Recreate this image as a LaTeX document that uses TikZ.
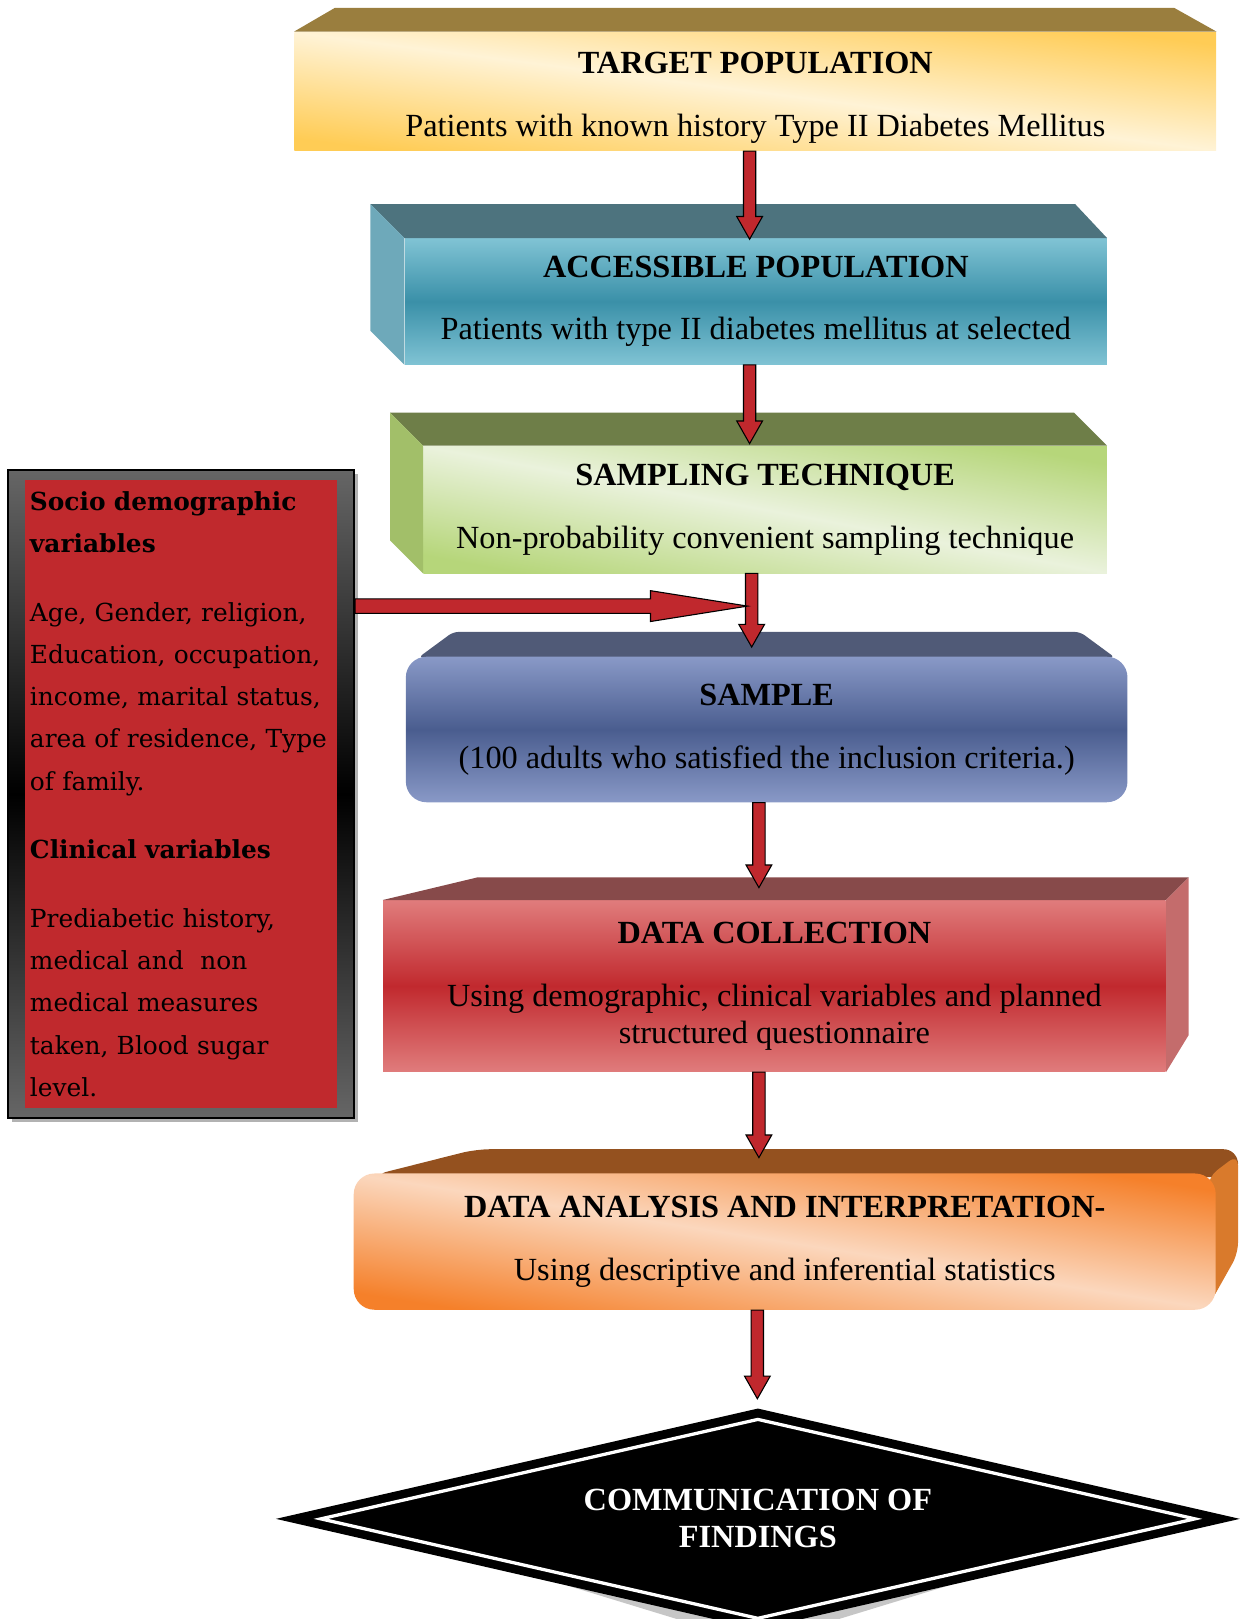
\documentclass[tikz,border=0pt]{standalone}
\usepackage{fontspec}
\setmainfont{Liberation Serif}
\newfontfamily\sidefont{DejaVu Serif}
\usetikzlibrary{calc,shapes.geometric}

\definecolor{arrred}{HTML}{C0282D}
\definecolor{tpTop}{HTML}{9A7E3E}
\definecolor{tpPale}{HTML}{FFF3D6}
\definecolor{tpGold}{HTML}{FFCC55}
\definecolor{apTop}{HTML}{4D737E}
\definecolor{apSide}{HTML}{6EA9BA}
\definecolor{apLight}{HTML}{80C3D4}
\definecolor{apDark}{HTML}{3A90A8}
\definecolor{stTop}{HTML}{6E7E48}
\definecolor{stSide}{HTML}{A2BF69}
\definecolor{stPale}{HTML}{EAF2DC}
\definecolor{stGreen}{HTML}{B6D67A}
\definecolor{saTop}{HTML}{505A77}
\definecolor{saLight}{HTML}{8999C7}
\definecolor{saDark}{HTML}{4A5D8F}
\definecolor{dcTop}{HTML}{874A4A}
\definecolor{dcSide}{HTML}{C46C6C}
\definecolor{dcLight}{HTML}{E07C7C}
\definecolor{dcDark}{HTML}{C1292E}
\definecolor{daTop}{HTML}{94511F}
\definecolor{daSide}{HTML}{D97A2C}
\definecolor{daPale}{HTML}{FBD7BD}
\definecolor{daOrange}{HTML}{F5802A}
\definecolor{lbRed}{HTML}{C0292D}
\definecolor{lbGray}{HTML}{666666}

\newcommand\vfat[2]{%
  \draw[fatarrow] let \p1=(#1), \p2=(#2) in
    (\x1-3.4pt,\y1) -- (\x1+3.4pt,\y1) -- (\x1+3.4pt,\y2+12.5pt) -- (\x1+7.1pt,\y2+12.5pt)
    -- (\x1,\y2) -- (\x1-7.1pt,\y2+12.5pt) -- (\x1-3.4pt,\y2+12.5pt) -- cycle;}
\newcommand\hfat[2]{%
  \draw[fatarrow] let \p1=(#1), \p2=(#2) in
    (\x1,\y1+4pt) -- (\x2-53.5pt,\y1+4pt) -- (\x2-53.5pt,\y1+8.5pt) -- (\x2,\y1)
    -- (\x2-53.5pt,\y1-8.5pt) -- (\x2-53.5pt,\y1-4pt) -- (\x1,\y1-4pt) -- cycle;}

\begin{document}
\begin{tikzpicture}[x=0.02cm,y=-0.02cm,
  every node/.style={inner sep=0pt},
  boxtext/.style={align=center, font=\fontsize{17.8}{20.5}\selectfont, text=black},
  fatarrow/.style={draw=black, fill=arrred, line width=0.6pt, line join=miter},
  sidetext/.style={align=left, font=\sidefont\fontsize{13.7}{23.3}\selectfont, text=black},
]
\path[use as bounding box] (0,0) rectangle (1210,1568);
\clip (0,0) rectangle (1210,1568);

% ---------- TARGET POPULATION
\node[boxtext, minimum width=17.86cm, minimum height=2.3cm,
      top color=tpGold, bottom color=tpGold, middle color=tpPale, shading angle=-7.3]
  (tp) at (731.5,88.5)
  {\rule{0pt}{19pt}\textbf{TARGET POPULATION}\\[14pt]Patients with known history Type II Diabetes Mellitus};
\fill[tpTop] (tp.north west) -- ($(tp.north west)+(39.5,-23)$) -- ($(tp.north east)+(-41,-23)$) -- (tp.north east) -- cycle;

% ---------- ACCESSIBLE POPULATION
\node[boxtext, minimum width=13.6cm, minimum height=2.44cm,
      top color=apLight, bottom color=apLight, middle color=apDark]
  (ap) at (732,292)
  {\textbf{ACCESSIBLE POPULATION}\\[14pt]Patients with type II diabetes mellitus at selected};
\fill[apTop] (ap.north west) -- ($(ap.north west)+(-33,-33)$) -- ($(ap.north east)+(-31,-33)$) -- (ap.north east) -- cycle;
\fill[apSide] (ap.north west) -- ($(ap.north west)+(-33,-33)$) -- ($(ap.south west)+(-33,-33)$) -- (ap.south west) -- cycle;

% ---------- SAMPLING TECHNIQUE
\node[boxtext, minimum width=13.24cm, minimum height=2.46cm,
      top color=stGreen, bottom color=stGreen, middle color=stPale, shading angle=-10.5]
  (st) at (741,493.5)
  {\textbf{SAMPLING TECHNIQUE}\\[14pt]Non-probability convenient sampling technique};
\fill[stTop] (st.north west) -- ($(st.north west)+(-32,-32)$) -- ($(st.north east)+(-32,-32)$) -- (st.north east) -- cycle;
\fill[stSide] (st.north west) -- ($(st.north west)+(-32,-32)$) -- ($(st.south west)+(-32,-32)$) -- (st.south west) -- cycle;

% ---------- SAMPLE
\fill[saTop, rounded corners=3pt] (405,637) -- (439,612) -- (1046,612) -- (1080,637) -- cycle;
\node[boxtext, minimum width=13.98cm, minimum height=2.82cm, rounded corners=0.4cm,
      top color=saLight, bottom color=saLight, middle color=saDark]
  (sa) at (742.5,706.5)
  {\textbf{SAMPLE}\\[14pt](100 adults who satisfied the inclusion criteria.)};

% ---------- DATA COLLECTION
\node[boxtext, minimum width=15.16cm, minimum height=3.32cm,
      top color=dcLight, bottom color=dcLight, middle color=dcDark]
  (dc) at (750,955)
  {\textbf{DATA COLLECTION}\\[14pt]Using demographic, clinical variables and planned\\structured questionnaire};
\fill[dcTop] (dc.north west) -- ($(dc.north west)+(92,-22)$) -- ($(dc.north east)+(22,-22)$) -- (dc.north east) -- cycle;
\fill[dcSide] (dc.north east) -- ($(dc.north east)+(22,-22)$) -- ($(dc.south east)+(22,-36)$) -- (dc.south east) -- cycle;

% ---------- DATA ANALYSIS
\fill[daTop, rounded corners=8pt] (362,1138) -- (461,1113) -- (1199,1113) -- (1199,1140) -- (1170,1140) -- cycle;
\fill[daSide, rounded corners=6pt] (1170,1140) -- (1199,1118) -- (1199,1214) -- (1172,1262) -- cycle;
\node[boxtext, minimum width=16.7cm, minimum height=2.64cm, rounded corners=0.4cm,
      top color=daOrange, bottom color=daOrange, middle color=daPale, shading angle=-8.9]
  (da) at (760,1202.5)
  {\textbf{DATA ANALYSIS AND INTERPRETATION-}\\[14pt]Using descriptive and inferential statistics};

% ---------- COMMUNICATION OF FINDINGS
\fill[gray!45] (734,1385) -- (1084,1485) -- (734,1592) -- (384,1485) -- cycle;
\node[diamond, aspect=4.36, fill=black, minimum width=18.68cm, minimum height=4.28cm, inner sep=0pt,
      align=center, text=white, font=\bfseries\fontsize{17.8}{20.5}\selectfont]
  (cf) at (734,1471) {COMMUNICATION OF\\FINDINGS};
\draw[white, line width=1.8pt, line join=miter]
  ($(cf.north)+(0,11)$) -- ($(cf.east)+(-44,0)$) -- ($(cf.south)+(0,-11)$) -- ($(cf.west)+(44,0)$) -- cycle;

% ---------- LEFT VARIABLES BOX
\fill[gray!60] (12,459) rectangle (347,1087);
\node[minimum width=6.7cm, minimum height=12.56cm, draw=black, line width=1.1pt,
      top color=lbGray, bottom color=lbGray, middle color=black]
  (lbo) at (175.5,769) {};
\node[sidetext, fill=lbRed, minimum height=12.16cm, text width=5.84cm, inner xsep=0.1cm]
  (lb) at (175,769)
  {\textbf{Socio demographic}\\\textbf{variables}\\[14.5pt]
   Age, Gender, religion,\\Education, occupation,\\income, marital status,\\area of residence, Type\\of family.\\[14.5pt]
   \textbf{Clinical variables}\\[14.5pt]
   Prediabetic history,\\medical and\ \ non\\medical measures\\taken, Blood sugar\\level.};

% ---------- ARROWS
\coordinate (join) at (724,587);
\vfat{$(tp.south)+(-5.5,0)$}{$(ap.north)+(-6,1)$}
\vfat{$(ap.south)+(-6,0)$}{$(st.north)+(-15,-2)$}
\vfat{$(st.south)+(-13,0)$}{$(sa.north)+(-14,-9)$}
\hfat{lbo.east |- join}{join}
\vfat{$(sa.south)+(-7.5,0)$}{$(dc.north)+(-15,-12)$}
\vfat{$(dc.south)+(-15,0)$}{$(da.north)+(-26,-15)$}
\vfat{$(da.south)+(-26.5,0)$}{$(cf.north)+(0,-9)$}
\end{tikzpicture}
\end{document}
